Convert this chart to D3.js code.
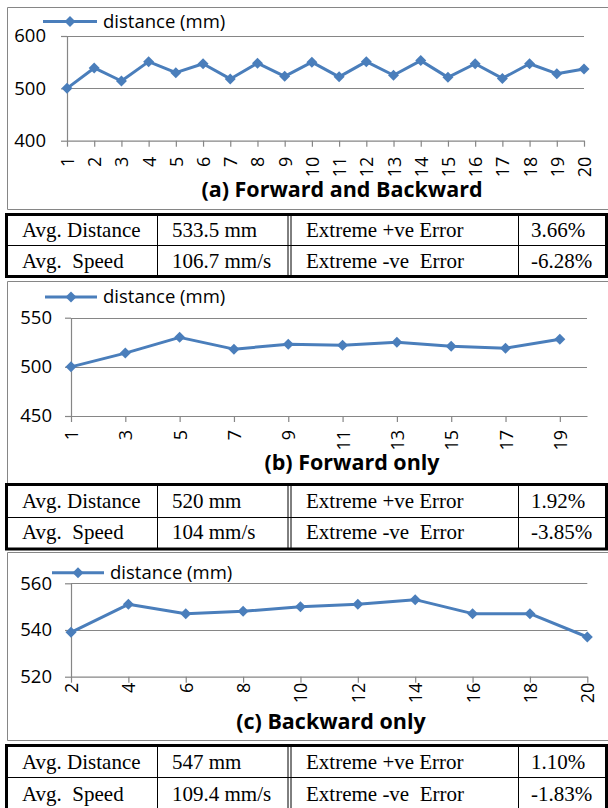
<!DOCTYPE html>
<html>
<head>
<meta charset="utf-8">
<script src="https://cdn.jsdelivr.net/npm/d3@7"></script>
<style>
  body { margin: 0; background: #fff; }
  svg { display: block; }
</style>
</head>
<body>
<div id="chart"></div>
<script>
// --- data ---
const trialsAll = [1, 2, 3, 4, 5, 6, 7, 8, 9, 10, 11, 12, 13, 14, 15, 16, 17, 18, 19, 20];
const distanceAll = [500, 539, 514, 551, 530, 547, 518, 548, 523, 550, 522, 551, 525, 553, 521, 547, 519, 547, 528, 537];

const trialsFwd = [1, 3, 5, 7, 9, 11, 13, 15, 17, 19];
const distanceFwd = [500, 514, 530, 518, 523, 522, 525, 521, 519, 528];

const trialsBwd = [2, 4, 6, 8, 10, 12, 14, 16, 18, 20];
const distanceBwd = [539, 551, 547, 548, 550, 551, 553, 547, 547, 537];

const yTicksA = [400, 500, 600];
const yTicksB = [450, 500, 550];
const yTicksC = [520, 540, 560];

const titles = ["(a) Forward and Backward", "(b) Forward only", "(c) Backward only"];
const legendLabel = "distance (mm)";

const rowLabels = ["Avg. Distance", "Avg.  Speed"];
const errLabels = ["Extreme +ve Error", "Extreme -ve  Error"];
const avgDistance = ["533.5 mm", "520 mm", "547 mm"];
const avgSpeed = ["106.7 mm/s", "104 mm/s", "109.4 mm/s"];
const posError = ["3.66%", "1.92%", "1.10%"];
const negError = ["-6.28%", "-3.85%", "-1.83%"];

// --- layout ---
const W = 608, H = 808;
const BLUE = "#4a7ebb", GRID = "#868686";
const SANS = "'Open Sans', 'DejaVu Sans', sans-serif";
const SERIF = "'Liberation Serif', 'Times New Roman', serif";

const svg = d3.select("#chart").append("svg")
    .attr("width", W).attr("height", H)
    .attr("viewBox", `0 0 ${W} ${H}`);

const panels = [
    { box: [7.5, 7.5, 608, 209.5], xr: [67, 584], yr: [140.7, 36], xDom: [1, 20],
      yDom: [400, 600], yTicks: yTicksA, xTicks: trialsAll, xs: trialsAll, ys: distanceAll,
      legend: { x0: 43, x1: 97, y: 21.5 }, title: { x: 342, y: 197 }, labGap: 16, ylabRight: 46 },
    { box: [7.5, 281.5, 608, 484], xr: [71, 587], yr: [416, 317.7], xDom: [1, 20],
      yDom: [450, 550], yTicks: yTicksB, xTicks: trialsFwd, xs: trialsFwd, ys: distanceFwd,
      legend: { x0: 45, x1: 97, y: 297 }, title: { x: 352, y: 470 }, labGap: 14, ylabRight: 52 },
    { box: [7.5, 552.5, 608, 740.5], xr: [71, 587.3], yr: [676.7, 583.3], xDom: [2, 20],
      yDom: [520, 560], yTicks: yTicksC, xTicks: trialsBwd, xs: trialsBwd, ys: distanceBwd,
      legend: { x0: 52, x1: 104, y: 572.7 }, title: { x: 331, y: 729 }, labGap: 6, ylabRight: 52 }
];

const diamond = "M0,-5.5L5.5,0L0,5.5L-5.5,0Z";

panels.forEach((p, i) => {
    const g = svg.append("g");

    // chart frame
    const [bx0, by0, bx1, by1] = p.box;
    g.append("path")
        .attr("d", `M${bx1},${by0}H${bx0}V${by1}H${bx1}`)
        .attr("fill", "none").attr("stroke", GRID).attr("stroke-width", 1);

    const x = d3.scaleLinear().domain(p.xDom).range(p.xr);
    const y = d3.scaleLinear().domain(p.yDom).range(p.yr);

    // gridlines
    g.selectAll(".grid")
        .data(p.yTicks.slice(1))
        .join("line")
        .attr("x1", p.xr[0]).attr("x2", p.xr[1])
        .attr("y1", d => Math.round(y(d)) + 0.5).attr("y2", d => Math.round(y(d)) + 0.5)
        .attr("stroke", GRID).attr("stroke-width", 1.2);

    // y axis
    const yAxis = g.append("g")
        .attr("transform", `translate(${p.xr[0]},0)`)
        .call(d3.axisLeft(y).tickValues(p.yTicks).tickSize(6).tickSizeOuter(0)
            .tickPadding(p.xr[0] - 6 - p.ylabRight));
    yAxis.selectAll("path, line").attr("stroke", GRID).attr("stroke-width", 1.2);
    yAxis.selectAll("text")
        .attr("fill", "#000").style("font-family", SANS).style("font-size", "18.5px");

    // x axis
    const xAxis = g.append("g")
        .attr("transform", `translate(0,${p.yr[0]})`)
        .call(d3.axisBottom(x).tickValues(p.xTicks).tickSize(6).tickSizeOuter(0));
    xAxis.selectAll("path, line").attr("stroke", GRID).attr("stroke-width", 1.2);
    xAxis.selectAll("text")
        .attr("fill", "#000").style("font-family", SANS).style("font-size", "18px")
        .attr("transform", "rotate(-90)")
        .attr("text-anchor", "end")
        .attr("x", -p.labGap).attr("y", 0).attr("dy", "0.36em");

    // series line + markers
    const pts = p.xs.map((v, k) => [v, p.ys[k]]);
    g.append("path")
        .datum(pts)
        .attr("fill", "none").attr("stroke", BLUE).attr("stroke-width", 3)
        .attr("stroke-linejoin", "round")
        .attr("d", d3.line().x(d => x(d[0])).y(d => y(d[1])));
    g.selectAll(".pt")
        .data(pts)
        .join("path")
        .attr("transform", d => `translate(${x(d[0])},${y(d[1])})`)
        .attr("d", diamond).attr("fill", BLUE);

    // legend
    const lg = p.legend;
    g.append("line")
        .attr("x1", lg.x0).attr("x2", lg.x1).attr("y1", lg.y).attr("y2", lg.y)
        .attr("stroke", BLUE).attr("stroke-width", 3);
    g.append("path")
        .attr("transform", `translate(${(lg.x0 + lg.x1) / 2},${lg.y})`)
        .attr("d", diamond).attr("fill", BLUE);
    g.append("text")
        .attr("x", lg.x1 + 6).attr("y", lg.y).attr("dy", "0.35em")
        .style("font-family", SANS).style("font-size", "18.5px")
        .text(legendLabel);

    // title
    g.append("text")
        .attr("x", p.title.x).attr("y", p.title.y)
        .attr("text-anchor", "middle")
        .style("font-family", SANS).style("font-size", "21.5px").style("font-weight", "bold")
        .text(titles[i]);
});

// --- summary tables ---
const tables = [
    { top: 214.5, mid: 245.5, bot: 276.5, base: [237, 268] },
    { top: 484.5, mid: 517.5, bot: 549, base: [507.5, 538.5] },
    { top: 745.5, mid: 777.5, bot: 810, base: [769, 801] }
];
const colLines = [157.5, 518.5];
const dblLine = [288, 291];
const colText = [22, 172, 306, 531];

tables.forEach((t, i) => {
    const g = svg.append("g");
    g.append("rect")
        .attr("x", 6.5).attr("y", t.top).attr("width", 600).attr("height", t.bot - t.top)
        .attr("fill", "#fff").attr("stroke", "#000").attr("stroke-width", 3);
    g.append("line")
        .attr("x1", 8).attr("x2", 605).attr("y1", t.mid).attr("y2", t.mid)
        .attr("stroke", "#000").attr("stroke-width", 1);
    colLines.concat(dblLine).forEach(cx => {
        g.append("line")
            .attr("x1", cx).attr("x2", cx).attr("y1", t.top).attr("y2", t.bot)
            .attr("stroke", "#000").attr("stroke-width", 1);
    });

    const rows = [
        [rowLabels[0], avgDistance[i], errLabels[0], posError[i]],
        [rowLabels[1], avgSpeed[i], errLabels[1], negError[i]]
    ];
    rows.forEach((r, ri) => {
        r.forEach((txt, ci) => {
            g.append("text")
                .attr("x", colText[ci]).attr("y", t.base[ri])
                .style("font-family", SERIF).style("font-size", "21px")
                .style("white-space", "pre")
                .text(txt);
        });
    });
});
</script>
</body>
</html>
